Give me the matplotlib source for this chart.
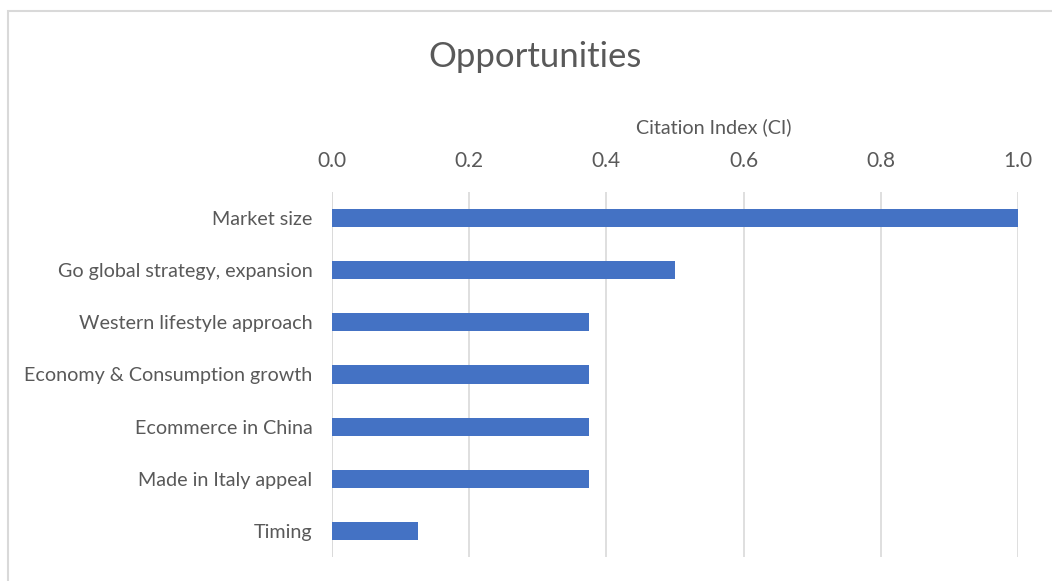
import matplotlib
matplotlib.use("Agg")
import matplotlib.pyplot as plt
from matplotlib.patches import Rectangle

categories = [
    "Market size",
    "Go global strategy, expansion",
    "Western lifestyle approach",
    "Economy & Consumption growth",
    "Ecommerce in China",
    "Made in Italy appeal",
    "Timing",
]
values = [1.0, 0.5, 0.375, 0.375, 0.375, 0.375, 0.125]
xticks = [0.0, 0.2, 0.4, 0.6, 0.8, 1.0]

W, H = 1052, 581
DPI = 100
TEXT = "#595959"
plt.rcParams["font.family"] = ["Lato", "DejaVu Sans"]

fig = plt.figure(figsize=(W / DPI, H / DPI), dpi=DPI)
fig.patch.set_facecolor("white")

# chart frame
fig.patches.append(Rectangle((8 / W, -0.05), 1.2, 1 - 11 / H + 0.05,
                             transform=fig.transFigure, fill=False,
                             edgecolor="#D9D9D9", linewidth=1.5))

left, right, top, bottom = 332, 1018, 192, 557
ax = fig.add_axes([left / W, 1 - bottom / H, (right - left) / W, (bottom - top) / H])

y = list(range(len(categories)))
ax.barh(y, values, height=0.35, color="#4472C4", zorder=3)
ax.set_ylim(len(categories) - 0.5, -0.5)
ax.set_xlim(0, 1.0)
ax.set_yticks(y)
ax.set_yticklabels(categories, fontsize=14.2, color=TEXT)
ax.set_xticks(xticks)
ax.set_xticklabels([f"{t:.1f}" for t in xticks], fontsize=15, color=TEXT)
ax.xaxis.tick_top()
ax.tick_params(axis="both", length=0)
ax.tick_params(axis="x", pad=15)
ax.tick_params(axis="y", pad=14)
ax.grid(axis="x", color="#D9D9D9", linewidth=1.2, zorder=0)
for s in ax.spines.values():
    s.set_visible(False)
ax.axvline(0, color="#D9D9D9", linewidth=1.2, zorder=1)

fig.text(535 / W, 1 - 57 / H, "Opportunities", ha="center", va="center",
         fontsize=25, color=TEXT)
fig.text(714 / W, 1 - 127 / H, "Citation Index (CI)", ha="center", va="center",
         fontsize=14.2, color=TEXT)

fig.savefig("out.png", dpi=DPI)
